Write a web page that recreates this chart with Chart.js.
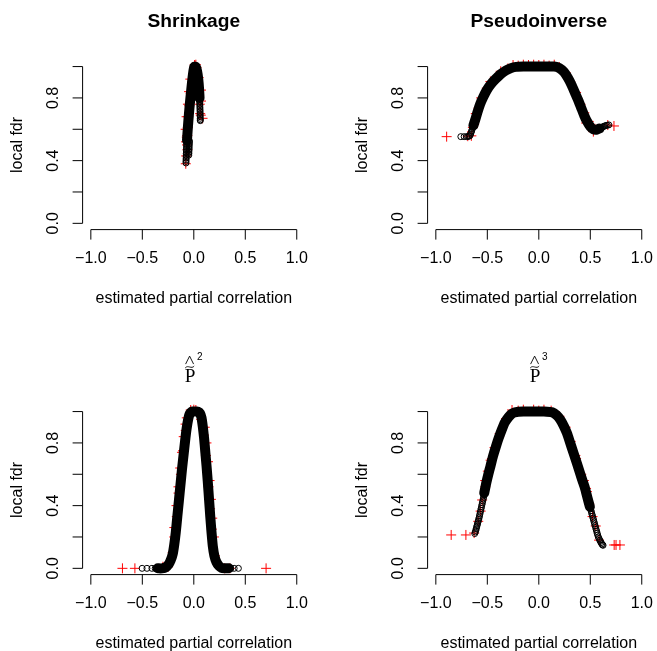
<!DOCTYPE html>
<html>
<head>
<meta charset="utf-8">
<script src="https://cdn.jsdelivr.net/npm/chart.js@4.4.1/dist/chart.umd.min.js"></script>
<style>
  html, body { margin: 0; padding: 0; background: #fff; width: 657px; height: 651px; overflow: hidden; position: relative; }
  canvas { position: absolute; }
</style>
</head>
<body>
<canvas id="c1" width="311" height="306" style="left:0px;top:0px"></canvas>
<canvas id="c2" width="311" height="306" style="left:345px;top:0px"></canvas>
<canvas id="c3" width="311" height="306" style="left:0px;top:345px"></canvas>
<canvas id="c4" width="311" height="306" style="left:345px;top:345px"></canvas>
<script>
// ---- axis ticks ----
const xTickValues = [-1, -0.5, 0, 0.5, 1];
const xTickLabels = ['\u22121.0', '\u22120.5', '0.0', '0.5', '1.0'];
const yTickValues = [0, 0.2, 0.4, 0.6, 0.8, 1.0];
const yTickLabels = ['0.0', '', '0.4', '', '0.8', ''];
const xAxisTitle = 'estimated partial correlation';
const yAxisTitle = 'local fdr';

// ---- Shrinkage ----
// dense run of circles (drawn as a thick stroke through them)
const shrinkBandX = [-0.066, -0.060, -0.052, -0.043, -0.033, -0.022, -0.012, -0.003, 0.005, 0.018, 0.032, 0.043, 0.051, 0.056];
const shrinkBandY = [0.530, 0.590, 0.660, 0.730, 0.800, 0.870, 0.930, 0.975, 1.000, 1.000, 0.970, 0.920, 0.860, 0.800];
// sparser circles
const shrinkCircleX = [
  -0.0760, -0.0755, -0.0750, -0.0745, -0.0740, -0.0735, -0.0730, -0.0725, -0.0720, -0.0710, -0.0705, -0.0700, -0.0690, -0.0680, -0.0670,
  -0.0485, -0.0480, -0.0475, -0.0470, -0.0460, -0.0455, -0.0450, -0.0440, -0.0430, -0.0420,
  0.0570, 0.0575, 0.0580, 0.0585, 0.0590, 0.0595, 0.0600, 0.0605, 0.0610, 0.0612, 0.0615, 0.0620, 0.0625, 0.0630, 0.0630
];
const shrinkCircleY = [
  0.385, 0.395, 0.405, 0.415, 0.425, 0.435, 0.445, 0.455, 0.465, 0.475, 0.485, 0.495, 0.505, 0.515, 0.525,
  0.435, 0.445, 0.455, 0.465, 0.475, 0.485, 0.495, 0.505, 0.515, 0.525,
  0.790, 0.780, 0.770, 0.760, 0.750, 0.740, 0.730, 0.720, 0.710, 0.700, 0.690, 0.680, 0.670, 0.660, 0.655
];
const shrinkPlusX = [-0.078, -0.074, -0.062, -0.066, -0.068, -0.063, -0.075, -0.058, -0.054, -0.044, -0.030, -0.017, 0.008, 0.026, 0.047, 0.058, 0.062, 0.068, 0.085,
  -0.079, -0.070, -0.057, -0.046, -0.034, 0.070, 0.070, 0.020];
const shrinkPlusY = [0.380, 0.430, 0.470, 0.500, 0.550, 0.560, 0.520, 0.610, 0.680, 0.750, 0.830, 0.900, 1.010, 0.995, 0.930, 0.760, 0.700, 0.690, 0.670,
  0.600, 0.680, 0.760, 0.840, 0.920, 0.850, 0.780, 1.012];

// ---- Pseudoinverse ----
const pinvBandX = [-0.635, -0.615, -0.595, -0.570, -0.540, -0.505, -0.465, -0.420, -0.370, -0.320, -0.270, -0.220, -0.150, -0.050, 0.050, 0.150, 0.200, 0.245, 0.285, 0.320, 0.350, 0.380, 0.410, 0.440, 0.470, 0.500, 0.530, 0.560, 0.590];
const pinvBandY = [0.625, 0.665, 0.710, 0.760, 0.805, 0.850, 0.888, 0.920, 0.952, 0.975, 0.990, 0.998, 1.000, 1.000, 1.000, 1.000, 0.990, 0.965, 0.925, 0.880, 0.835, 0.790, 0.740, 0.690, 0.648, 0.617, 0.600, 0.597, 0.605];
const pinvCircleX = [-0.757, -0.725, -0.700, -0.688, -0.676, -0.668, -0.662, -0.657, -0.652, -0.647, -0.643, 0.600, 0.610, 0.620, 0.630, 0.640, 0.652, 0.665, 0.680];
const pinvCircleY = [0.553, 0.553, 0.553, 0.554, 0.556, 0.560, 0.570, 0.580, 0.590, 0.600, 0.610, 0.608, 0.612, 0.615, 0.618, 0.621, 0.624, 0.626, 0.628];
const pinvPlusX = [-0.895, -0.690, -0.655, -0.640, -0.628, -0.585, -0.505, -0.425, -0.300, -0.200, -0.100, 0.000, 0.100, 0.200, 0.305, 0.405, 0.485, 0.545, 0.670, 0.730,
  -0.612, -0.560, -0.470, -0.370, -0.250, -0.150, -0.050, 0.050, 0.150, 0.262, 0.362, 0.442, 0.530, 0.460];
const pinvPlusY = [0.553, 0.556, 0.558, 0.612, 0.630, 0.735, 0.862, 0.925, 0.988, 1.006, 1.010, 1.010, 1.006, 0.996, 0.905, 0.760, 0.650, 0.603, 0.627, 0.621,
  0.700, 0.800, 0.905, 0.970, 1.010, 1.012, 1.012, 1.012, 1.012, 0.960, 0.835, 0.705, 0.585, 0.640];

// ---- P^2 ----
const p2BandX = [-0.350, -0.310, -0.270, -0.245, -0.225, -0.205, -0.190, -0.175, -0.160, -0.145, -0.130, -0.115, -0.100, -0.085, -0.070, -0.055, -0.040, -0.020, 0.000, 0.020, 0.040, 0.060, 0.075, 0.088, 0.100, 0.112, 0.124, 0.136, 0.148, 0.160, 0.172, 0.185, 0.200, 0.220, 0.245, 0.270, 0.300, 0.340];
const p2BandY = [0.000, 0.000, 0.008, 0.025, 0.050, 0.090, 0.150, 0.230, 0.330, 0.430, 0.530, 0.630, 0.720, 0.810, 0.890, 0.950, 0.985, 1.000, 1.000, 1.000, 1.000, 0.990, 0.960, 0.900, 0.830, 0.740, 0.650, 0.550, 0.440, 0.330, 0.230, 0.140, 0.080, 0.040, 0.015, 0.003, 0.000, 0.000];
const p2CircleX = [-0.502, -0.455, -0.407, -0.375, 0.360, 0.392, 0.433];
const p2CircleY = [0.000, 0.000, 0.000, 0.000, 0.000, 0.000, 0.000];
const p2PlusX = [-0.693, -0.572, -0.250, -0.205, -0.190, -0.165, -0.148, -0.125, -0.105, -0.078, -0.030, 0.020, 0.072, 0.099, 0.118, 0.143, 0.158, 0.175, 0.205, 0.300, 0.350, 0.702,
  -0.189, -0.168, -0.149, -0.132, -0.115, -0.098, -0.080, -0.068, 0.000, 0.106, 0.123, 0.138, 0.153, 0.166, 0.179, 0.195, -0.300, 0.250];
const p2PlusY = [0.000, 0.000, 0.010, 0.100, 0.200, 0.330, 0.480, 0.600, 0.750, 0.880, 1.010, 1.010, 0.950, 0.850, 0.720, 0.520, 0.380, 0.250, 0.080, 0.000, 0.000, 0.000,
  0.260, 0.400, 0.520, 0.640, 0.740, 0.840, 0.920, 0.960, 1.012, 0.900, 0.800, 0.680, 0.560, 0.440, 0.320, 0.200, 0.010, 0.012];

// ---- P^3 ----
const p3BandX = [-0.530, -0.510, -0.490, -0.470, -0.445, -0.417, -0.390, -0.360, -0.330, -0.296, -0.265, -0.233, -0.150, -0.050, 0.050, 0.132, 0.175, 0.211, 0.245, 0.274, 0.305, 0.338, 0.370, 0.401, 0.425, 0.449, 0.472, 0.496];
const p3BandY = [0.480, 0.545, 0.600, 0.650, 0.715, 0.776, 0.830, 0.883, 0.930, 0.963, 0.985, 0.995, 1.000, 1.000, 1.000, 0.995, 0.975, 0.946, 0.905, 0.861, 0.800, 0.734, 0.670, 0.606, 0.558, 0.510, 0.452, 0.393];
const p3CircleX = [
  -0.622, -0.617, -0.612, -0.608, -0.604, -0.600, -0.596, -0.592, -0.588, -0.584, -0.580, -0.576, -0.572, -0.568, -0.564, -0.560, -0.556, -0.552, -0.548, -0.544, -0.540, -0.536, -0.533,
  0.502, 0.507, 0.512, 0.517, 0.522, 0.527, 0.532, 0.537, 0.542, 0.547, 0.552, 0.557, 0.562, 0.567, 0.572, 0.578, 0.585, 0.592, 0.598, 0.605, 0.612, 0.618, 0.624
];
const p3CircleY = [
  0.222, 0.232, 0.242, 0.252, 0.262, 0.272, 0.282, 0.292, 0.302, 0.312, 0.322, 0.334, 0.346, 0.358, 0.370, 0.382, 0.394, 0.406, 0.418, 0.430, 0.442, 0.454, 0.466,
  0.380, 0.368, 0.356, 0.344, 0.332, 0.320, 0.308, 0.296, 0.284, 0.272, 0.260, 0.248, 0.236, 0.224, 0.212, 0.200, 0.190, 0.180, 0.172, 0.164, 0.156, 0.150, 0.147
];
const p3PlusX = [-0.851, -0.708, -0.628, -0.588, -0.565, -0.550, -0.519, -0.455, -0.385, -0.300, -0.200, 0.000, 0.120, 0.255, 0.355, 0.459, 0.490, 0.522, 0.553, 0.585, 0.732, 0.750, 0.788,
  -0.520, -0.495, -0.468, -0.430, -0.380, -0.318, -0.260, -0.150, -0.050, 0.050, 0.200, 0.260, 0.310, 0.362, 0.412, 0.438, 0.467];
const p3PlusY = [0.213, 0.213, 0.225, 0.300, 0.365, 0.436, 0.520, 0.700, 0.840, 0.962, 1.006, 1.006, 1.006, 0.900, 0.720, 0.510, 0.410, 0.330, 0.270, 0.180, 0.149, 0.149, 0.149,
  0.560, 0.620, 0.690, 0.770, 0.860, 0.955, 1.010, 1.012, 1.012, 1.012, 0.970, 0.900, 0.810, 0.700, 0.600, 0.560, 0.490];

const FONT = '"Liberation Sans", Arial, Helvetica, sans-serif';
const SERIF = '"Liberation Serif", "Times New Roman", serif';
const TICK = 10;

function pairs(xs, ys) { return xs.map((x, i) => ({ x: x, y: ys[i] })); }

// R-style axes: lines span first..last tick, ticks point outward, labels as in base graphics
const rFrame = {
  id: 'rFrame',
  afterDraw(chart, args, opts) {
    const ctx = chart.ctx, xs = chart.scales.x, ys = chart.scales.y, area = chart.chartArea;
    const left = area.left, bottom = area.bottom;
    const cx = (area.left + area.right) / 2, cy = (area.top + area.bottom) / 2;
    const xp = xTickValues.map(v => xs.getPixelForValue(v));
    const yp = yTickValues.map(v => ys.getPixelForValue(v));
    ctx.save();
    ctx.strokeStyle = '#000';
    ctx.fillStyle = '#000';
    ctx.lineWidth = 1;
    ctx.beginPath();
    ctx.moveTo(xp[0], bottom); ctx.lineTo(xp[xp.length - 1], bottom);
    xp.forEach(p => { ctx.moveTo(p, bottom); ctx.lineTo(p, bottom + TICK); });
    ctx.moveTo(left, yp[0]); ctx.lineTo(left, yp[yp.length - 1]);
    yp.forEach(p => { ctx.moveTo(left, p); ctx.lineTo(left - TICK, p); });
    ctx.stroke();

    ctx.font = '16px ' + FONT;
    ctx.textAlign = 'center';
    ctx.textBaseline = 'alphabetic';
    xp.forEach((p, i) => ctx.fillText(xTickLabels[i], p, bottom + 33.5));
    yp.forEach((p, i) => {
      if (!yTickLabels[i]) return;
      ctx.save();
      ctx.translate(left - 24.3, p);
      ctx.rotate(-Math.PI / 2);
      ctx.fillText(yTickLabels[i], 0, 0);
      ctx.restore();
    });
    ctx.fillText(xAxisTitle, cx, bottom + 73);
    ctx.save();
    ctx.translate(left - 61, cy);
    ctx.rotate(-Math.PI / 2);
    ctx.fillText(yAxisTitle, 0, 0);
    ctx.restore();

    if (opts.power) {
      // P with tilde and hat accents, raised power
      const base = area.top - 23.6;
      const px = cx - 3.6;
      ctx.font = '19.2px ' + SERIF;
      ctx.fillText('P', px, base);
      ctx.lineWidth = 0.9;
      // tilde
      const t0 = px - 5, tw = 9, ty = base - 14.7;
      ctx.beginPath();
      ctx.moveTo(t0, ty + 1);
      ctx.bezierCurveTo(t0 + tw * 0.3, ty - 2.6, t0 + tw * 0.7, ty + 2.6, t0 + tw, ty - 1);
      ctx.stroke();
      // hat
      ctx.beginPath();
      ctx.moveTo(px - 4.6, base - 17.6);
      ctx.lineTo(px - 0.6, base - 25.6);
      ctx.lineTo(px + 3.4, base - 17.6);
      ctx.stroke();
      ctx.font = '10px ' + FONT;
      ctx.textAlign = 'left';
      ctx.fillText(opts.power, px + 6.8, base - 21.4);
    } else {
      ctx.font = 'bold 19.2px ' + FONT;
      ctx.fillText(opts.title, cx, area.top - 33);
    }
    ctx.restore();
  }
};

function panel(id, bandX, bandY, circX, circY, plusX, plusY, bandWidth, frame) {
  return new Chart(document.getElementById(id), {
    type: 'scatter',
    data: {
      datasets: [
        {
          data: pairs(bandX, bandY),
          showLine: true,
          borderColor: '#000',
          borderWidth: bandWidth,
          borderCapStyle: 'round',
          borderJoinStyle: 'round',
          tension: 0.2,
          pointRadius: 3,
          pointBorderWidth: 1,
          pointBorderColor: '#000',
          pointBackgroundColor: 'rgba(0,0,0,0)',
          clip: false,
          order: 1
        },
        {
          data: pairs(circX, circY),
          showLine: false,
          pointRadius: 3,
          pointBorderWidth: 1,
          pointBorderColor: '#000',
          pointBackgroundColor: 'rgba(0,0,0,0)',
          clip: false,
          order: 1
        },
        {
          data: pairs(plusX, plusY),
          showLine: false,
          pointStyle: 'cross',
          pointRadius: 5,
          pointBorderWidth: 1,
          pointBorderColor: '#ff0000',
          clip: false,
          order: 2
        }
      ]
    },
    options: {
      responsive: false,
      animation: false,
      devicePixelRatio: 1,
      events: [],
      layout: { padding: { left: 82.6, right: 1.3, top: 60.3, bottom: 76.4 } },
      scales: {
        x: { type: 'linear', min: -1.08, max: 1.08, display: false },
        y: { type: 'linear', min: -0.04, max: 1.04, display: false }
      },
      plugins: {
        legend: { display: false },
        tooltip: { enabled: false },
        rFrame: frame
      }
    },
    plugins: [rFrame]
  });
}

panel('c1', shrinkBandX, shrinkBandY, shrinkCircleX, shrinkCircleY, shrinkPlusX, shrinkPlusY, 10, { title: 'Shrinkage' });
panel('c2', pinvBandX, pinvBandY, pinvCircleX, pinvCircleY, pinvPlusX, pinvPlusY, 10, { title: 'Pseudoinverse' });
panel('c3', p2BandX, p2BandY, p2CircleX, p2CircleY, p2PlusX, p2PlusY, 10, { power: '2' });
panel('c4', p3BandX, p3BandY, p3CircleX, p3CircleY, p3PlusX, p3PlusY, 10, { power: '3' });
</script>
</body>
</html>
